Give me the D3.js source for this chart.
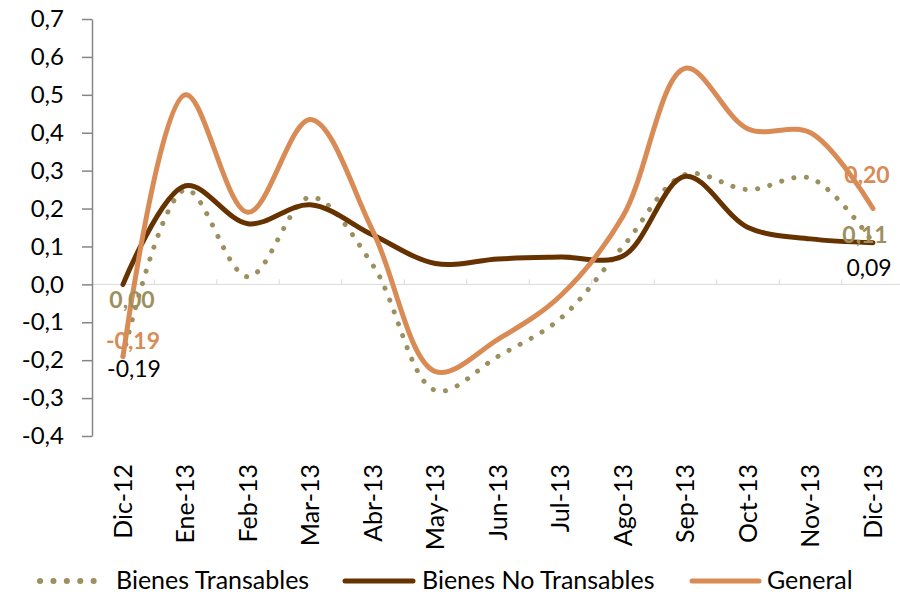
<!DOCTYPE html>
<html>
<head>
<meta charset="utf-8">
<script src="https://cdn.jsdelivr.net/npm/d3@7"></script>
<style>
  body { margin: 0; background: #fff; }
  text { font-family: Lato, "Open Sans", sans-serif; }
</style>
</head>
<body>
<div id="chart"></div>
<script>
// data
const months = ["Dic-12","Ene-13","Feb-13","Mar-13","Abr-13","May-13","Jun-13","Jul-13","Ago-13","Sep-13","Oct-13","Nov-13","Dic-13"];
const transables   = [-0.19, 0.25, 0.02, 0.23, 0.05, -0.28, -0.19, -0.09, 0.10, 0.29, 0.25, 0.28, 0.11];
const noTransables = [0.00, 0.26, 0.16, 0.21, 0.13, 0.055, 0.067, 0.072, 0.075, 0.285, 0.15, 0.12, 0.11];
const general      = [-0.19, 0.50, 0.19, 0.435, 0.14, -0.23, -0.145, -0.03, 0.18, 0.57, 0.41, 0.40, 0.20];
const yTicks = [0.7, 0.6, 0.5, 0.4, 0.3, 0.2, 0.1, 0.0, -0.1, -0.2, -0.3, -0.4];

const colTrans = "#9c9060", colNoTrans = "#663300", colGen = "#d98b55";

const width = 900, height = 595;
const svg = d3.select("#chart").append("svg")
  .attr("width", width).attr("height", height);

const axisX = 92;
const x = d3.scalePoint().domain(months).range([123, 873]);
const step = x.step();
const y = d3.scaleLinear().domain([-0.4, 0.7]).range([436, 19]);
const fmt = v => d3.format(".1f")(v).replace(".", ",").replace("−", "-");

// zero line with category tick marks
svg.append("line")
  .attr("x1", axisX).attr("x2", x("Dic-13") + step / 2)
  .attr("y1", y(0)).attr("y2", y(0))
  .attr("stroke", "#d9d9d9").attr("stroke-width", 1);
months.forEach((m, i) => {
  svg.append("line")
    .attr("x1", x(m) + step / 2).attr("x2", x(m) + step / 2)
    .attr("y1", y(0)).attr("y2", y(0) - 5)
    .attr("stroke", "#d9d9d9");
});

// y axis
const yAxis = svg.append("g")
  .attr("transform", `translate(${axisX},0)`)
  .call(d3.axisLeft(y).tickValues(yTicks).tickFormat(fmt).tickSize(10).tickSizeOuter(0).tickPadding(18));
yAxis.select(".domain").attr("stroke", "#868686").attr("stroke-width", 1.5);
yAxis.selectAll(".tick line").attr("stroke", "#868686").attr("stroke-width", 1.5);
yAxis.selectAll("text").attr("font-size", 24).attr("fill", "#000")
  .style("font-family", "Lato, sans-serif");

// x labels
svg.selectAll(".xlab")
  .data(months).enter().append("text")
  .attr("class", "xlab")
  .attr("transform", d => `translate(${x(d)},464) rotate(-90)`)
  .attr("text-anchor", "end")
  .attr("dy", "0.35em")
  .attr("font-size", 25)
  .text(d => d);

const line = d3.line()
  .x((d, i) => x(months[i]))
  .y(d => y(d))
  .curve(d3.curveCatmullRom.alpha(0.5));

svg.append("path").datum(transables)
  .attr("d", line).attr("fill", "none")
  .attr("stroke", colTrans).attr("stroke-width", 5)
  .attr("stroke-linecap", "round")
  .attr("stroke-dasharray", "0.1 12.5");

svg.append("path").datum(noTransables)
  .attr("d", line).attr("fill", "none")
  .attr("stroke", colNoTrans).attr("stroke-width", 5)
  .attr("stroke-linecap", "round");

svg.append("path").datum(general)
  .attr("d", line).attr("fill", "none")
  .attr("stroke", colGen).attr("stroke-width", 5)
  .attr("stroke-linecap", "round");

// data labels
const labels = [
  {t: "0,00", x: 132, y: 300, c: colTrans, b: true},
  {t: "-0,19", x: 133, y: 341, c: colGen, b: true},
  {t: "-0,19", x: 134, y: 369, c: "#000", b: false},
  {t: "0,20", x: 867, y: 175, c: colGen, b: true},
  {t: "0,11", x: 865, y: 235, c: colTrans, b: true},
  {t: "0,09", x: 869, y: 268, c: "#000", b: false}
];
svg.selectAll(".dlab").data(labels).enter().append("text")
  .attr("class", "dlab")
  .attr("x", d => d.x).attr("y", d => d.y)
  .attr("dy", "0.35em")
  .attr("text-anchor", "middle")
  .attr("font-size", 23)
  .attr("font-weight", d => d.b ? "bold" : "normal")
  .attr("fill", d => d.c)
  .text(d => d.t);

// legend
const legend = [
  {name: "Bienes Transables", color: colTrans, dash: "0.1 13.3", x0: 40, x1: 106, tx: 116},
  {name: "Bienes No Transables", color: colNoTrans, dash: null, x0: 345, x1: 413, tx: 422},
  {name: "General", color: colGen, dash: null, x0: 692, x1: 759, tx: 767}
];
const lg = svg.selectAll(".leg").data(legend).enter().append("g").attr("class", "leg");
lg.append("line")
  .attr("x1", d => d.x0).attr("x2", d => d.x1)
  .attr("y1", 581).attr("y2", 581)
  .attr("stroke", d => d.color).attr("stroke-width", d => d.dash ? 6 : 5)
  .attr("stroke-linecap", "round")
  .attr("stroke-dasharray", d => d.dash);
lg.append("text")
  .attr("x", d => d.tx).attr("y", 580).attr("dy", "0.35em")
  .attr("font-size", 25)
  .text(d => d.name);
</script>
</body>
</html>
